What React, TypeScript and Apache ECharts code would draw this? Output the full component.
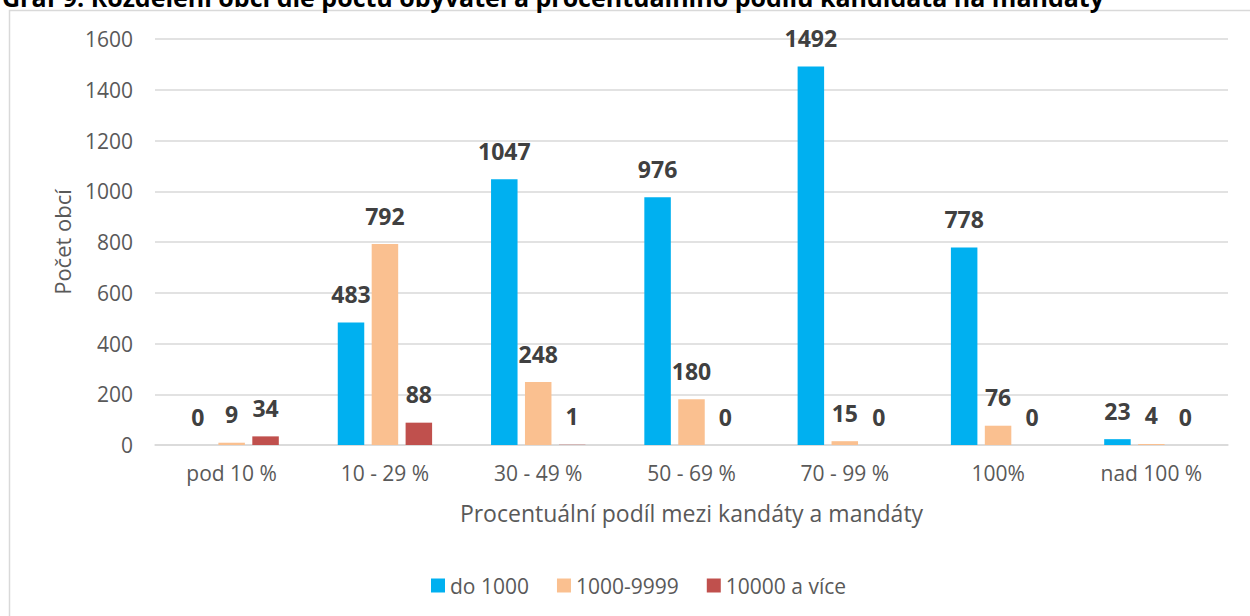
import React, { useEffect, useRef } from "react";
import * as echarts from "echarts";

const categories = ["pod 10 %", "10 - 29 %", "30 - 49 %", "50 - 69 %", "70 - 99 %", "100%", "nad 100 %"];
const seriesNames = ["do 1000", "1000-9999", "10000 a více"];
const do1000 = [0, 483, 1047, 976, 1492, 778, 23];
const s1000_9999 = [9, 792, 248, 180, 15, 76, 4];
const s10000 = [34, 88, 1, 0, 0, 0, 0];
const colors = ["#00B0F0", "#FAC090", "#C0504D"];
const yTicks = { min: 0, max: 1600, interval: 200 };
const titleText = "Graf 9: Rozdělení obcí dle počtu obyvatel a procentuálního podílu kandidáta na mandáty";
const yName = "Počet obcí";
const xName = "Procentuální podíl mezi kandáty a mandáty";

const FONT = "'Open Sans', 'Noto Sans', sans-serif";

export default function App() {
  const ref = useRef<HTMLDivElement>(null);
  useEffect(() => {
    if (!ref.current) return;
    const chart = echarts.init(ref.current, null, { renderer: "svg" });
    const values = [do1000, s1000_9999, s10000];
    chart.setOption({
      animation: false,
      textStyle: { fontFamily: FONT },
      graphic: [
        {
          type: "rect",
          shape: { x: 9.5, y: 10.5, width: 1260, height: 620 },
          style: { fill: "none", stroke: "#D9D9D9", lineWidth: 1.5 },
          silent: true,
        },
        {
          type: "text",
          x: 2,
          y: -3,
          style: {
            text: titleText,
            font: `bold 25px ${FONT}`,
            fill: "#000000",
            textAlign: "left",
            verticalAlign: "middle",
          },
        },
      ],
      legend: {
        data: seriesNames,
        left: 426,
        top: 570,
        icon: "rect",
        itemWidth: 14,
        itemHeight: 14,
        itemGap: 28,
        textStyle: { color: "#595959", fontSize: 21, fontFamily: FONT },
      },
      grid: { left: 155, right: 22, top: 39, bottom: 171, containLabel: false },
      xAxis: {
        type: "category",
        data: categories,
        name: xName,
        nameLocation: "middle",
        nameGap: 56,
        nameTextStyle: { color: "#595959", fontSize: 23, fontFamily: FONT },
        axisLine: { lineStyle: { color: "#D9D9D9", width: 1.5 } },
        axisTick: { show: false },
        axisLabel: { color: "#595959", fontSize: 21, margin: 17, fontFamily: FONT },
      },
      yAxis: {
        type: "value",
        min: yTicks.min,
        max: yTicks.max,
        interval: yTicks.interval,
        name: yName,
        nameLocation: "middle",
        nameGap: 82,
        nameTextStyle: { color: "#595959", fontSize: 22, fontFamily: FONT },
        axisLine: { show: false },
        axisTick: { show: false },
        axisLabel: {
          color: "#595959",
          fontSize: 21,
          margin: 22,
          fontFamily: FONT,
          formatter: (v: number) => String(v),
        },
        splitLine: { lineStyle: { color: "#D9D9D9", width: 1.5 } },
      },
      series: seriesNames.map((name, i) => ({
        name,
        type: "bar",
        data: values[i],
        barWidth: 26.5,
        barGap: "28%",
        itemStyle: { color: colors[i] },
        label: {
          show: true,
          position: "top",
          distance: 17,
          color: "#404040",
          fontWeight: "bold",
          fontSize: 23,
          fontFamily: FONT,
        },
      })),
    });
    return () => chart.dispose();
  }, []);
  return (
    <div
      ref={ref}
      style={{ position: "fixed", left: 0, top: 0, width: 1250, height: 616, background: "#ffffff" }}
    />
  );
}
